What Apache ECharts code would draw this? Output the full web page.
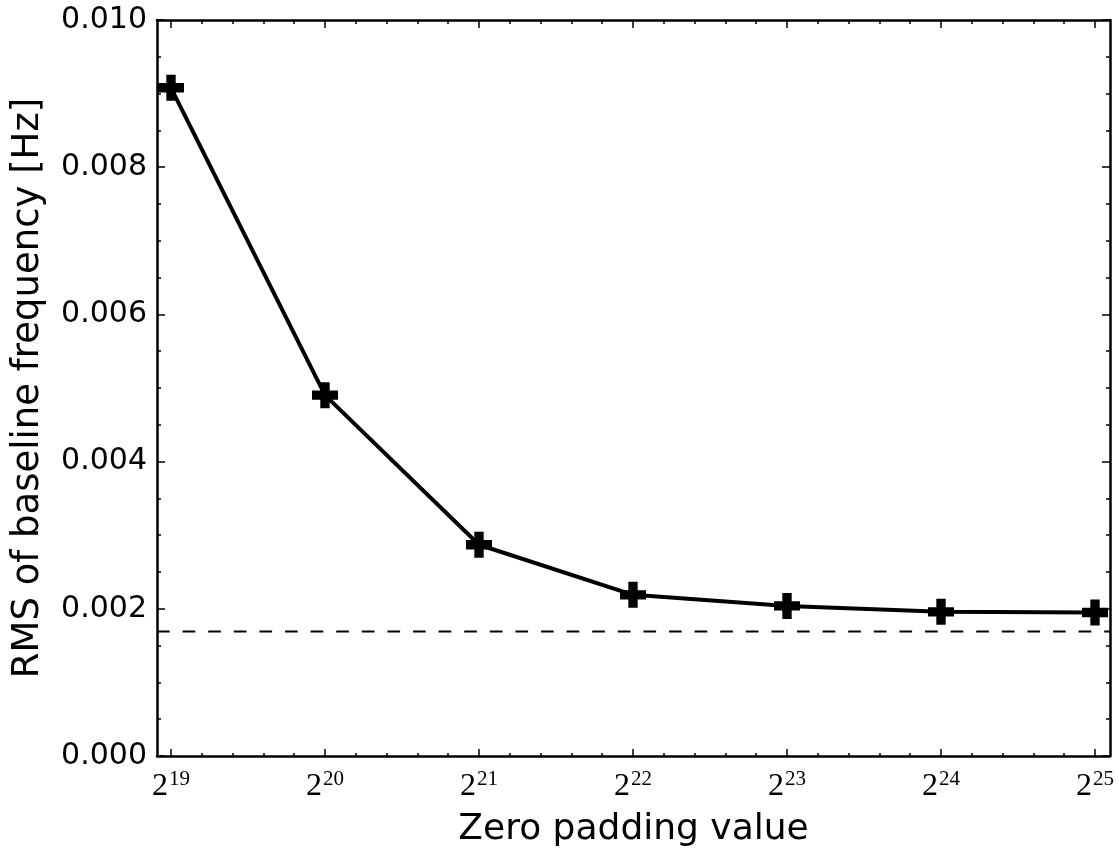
<!DOCTYPE html>
<html><head><meta charset="utf-8">
<script src="https://cdn.jsdelivr.net/npm/echarts@6/dist/echarts.min.js"></script>
<style>html,body{margin:0;padding:0;background:#fff}#c{width:1119px;height:853px}</style>
</head><body><div id="c"></div>
<script>
// Data (x given as power-of-two exponents of the zero padding value)
const exponents = [19, 20, 21, 22, 23, 24, 25];
const rmsValues = [0.00908, 0.00491, 0.00288, 0.00220, 0.00205, 0.00197, 0.00196];
const baselineLimit = 0.00169;
const yMin = 0, yMax = 0.010, yStep = 0.002;
const xTitle = 'Zero padding value';
const yTitle = 'RMS of baseline frequency [Hz]';
const frameMin = 0, frameMax = 1;

const chart = echarts.init(document.getElementById('c'), null, {renderer: 'canvas'});
const black = '#000';
const plus = 'path://M3.2,0 H6.8 V3.2 H10 V6.8 H6.8 V10 H3.2 V6.8 H0 V3.2 H3.2 Z';
const tickStyle = {color: black, width: 1.5};
const frameLine = {show: true, onZero: false, lineStyle: {color: black, width: 2.5}};

const option = {
  animation: false,
  backgroundColor: '#fff',
  grid: [
    {left: 157, right: 9, top: 20, bottom: 96, containLabel: false},
    {left: 171, right: 24, top: 20, bottom: 96, containLabel: false}
  ],
  xAxis: [
    { // frame bottom + title
      gridIndex: 0, type: 'value', min: frameMin, max: frameMax, position: 'bottom',
      axisLine: frameLine, axisTick: {show: false}, axisLabel: {show: false}, splitLine: {show: false},
      name: xTitle, nameLocation: 'middle', nameGap: 56,
      nameTextStyle: {fontFamily: 'DejaVu Sans', fontSize: 36, color: black}
    },
    { // frame top
      gridIndex: 0, type: 'value', min: frameMin, max: frameMax, position: 'top',
      axisLine: frameLine, axisTick: {show: false}, axisLabel: {show: false}, splitLine: {show: false}
    },
    { // data x axis bottom
      gridIndex: 1, type: 'value', min: exponents[0], max: exponents[exponents.length - 1], interval: 1,
      position: 'bottom',
      axisLine: {show: false},
      axisTick: {show: true, inside: true, length: 8, lineStyle: tickStyle},
      minorTick: {show: true, splitNumber: 5, length: 4, lineStyle: tickStyle},
      splitLine: {show: false},
      axisLabel: {
        show: true, margin: 12,
        formatter: v => '{b|2}{s|' + v + '}',
        rich: {
          b: {fontFamily: 'Liberation Serif', fontSize: 32, color: black},
          s: {fontFamily: 'Liberation Serif', fontSize: 21, color: black, padding: [0, 0, 15, 1]}
        }
      }
    },
    { // data x axis top (ticks only)
      gridIndex: 1, type: 'value', min: exponents[0], max: exponents[exponents.length - 1], interval: 1,
      position: 'top',
      axisLine: {show: false},
      axisTick: {show: true, inside: true, length: 8, lineStyle: tickStyle},
      minorTick: {show: true, splitNumber: 5, length: 4, lineStyle: tickStyle},
      splitLine: {show: false}, axisLabel: {show: false}
    }
  ],
  yAxis: [
    {
      gridIndex: 0, type: 'value', min: yMin, max: yMax, interval: yStep, position: 'left',
      axisLine: frameLine,
      axisTick: {show: true, inside: true, length: 8, lineStyle: tickStyle},
      minorTick: {show: true, splitNumber: 4, length: 4, lineStyle: tickStyle},
      splitLine: {show: false},
      axisLabel: {show: true, margin: 10, formatter: v => v.toFixed(3),
        fontFamily: 'DejaVu Sans', fontSize: 30, color: black},
      name: yTitle, nameLocation: 'middle', nameGap: 110,
      nameTextStyle: {fontFamily: 'DejaVu Sans', fontSize: 37, color: black}
    },
    {
      gridIndex: 0, type: 'value', min: yMin, max: yMax, interval: yStep, position: 'right',
      axisLine: frameLine,
      axisTick: {show: true, inside: true, length: 8, lineStyle: tickStyle},
      minorTick: {show: true, splitNumber: 4, length: 4, lineStyle: tickStyle},
      splitLine: {show: false}, axisLabel: {show: false}
    },
    {
      gridIndex: 1, type: 'value', min: yMin, max: yMax, show: false
    }
  ],
  series: [
    {
      type: 'line', xAxisIndex: 0, yAxisIndex: 0, silent: true, symbol: 'none',
      data: [[frameMin, baselineLimit], [frameMax, baselineLimit]],
      lineStyle: {color: black, width: 2, type: [12.7, 12.9]}
    },
    {
      type: 'line', xAxisIndex: 2, yAxisIndex: 2, clip: false, z: 5,
      data: exponents.map((e, i) => [e, rmsValues[i]]),
      symbol: plus, symbolSize: 26,
      itemStyle: {color: black},
      lineStyle: {color: black, width: 4}
    }
  ]
};
chart.setOption(option);
</script>
</body></html>
